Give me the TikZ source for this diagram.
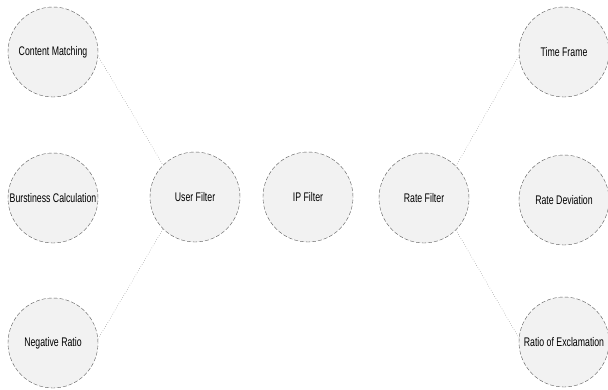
\documentclass[tikz,border=0pt]{standalone}
\usepackage{fontspec}
\newfontfamily\narrowsf[FakeStretch=0.7]{Liberation Sans}
\usepackage{xcolor}
\usepackage{tikz}
\usetikzlibrary{positioning}

\tikzset{
    filterbox/.style={circle, draw=black!65, dash pattern=on 4pt off 2pt, fill=black!5, minimum size=90pt,
        inner sep=0pt, font=\narrowsf\fontsize{12.5}{14}\selectfont},
    link/.style={draw=black!65, dotted, thin}
}

\begin{document}
\begin{tikzpicture}[x=1pt, y=-1pt]
    \useasboundingbox (0,0) rectangle (608,390);
    \foreach \n/\x/\y/\c in {cm/53/52/Content Matching, bc/53/198/Burstiness Calculation,
        nr/53/343/Negative Ratio, uf/195/197/User Filter, ip/308/197/IP Filter,
        rf/424/198/Rate Filter, tf/564/52/Time Frame, rd/564/200/Rate Deviation,
        re/564/342/Ratio of Exclamation} {
        \node[filterbox] (\n) at (\x,\y) {\c};
    }
    \draw[link] (cm.-5) -- (uf.135);
    \draw[link] (nr.5) -- (uf.225);
    \draw[link] (rf.45) -- (tf.185);
    \draw[link] (rf.-45) -- (re.175);
\end{tikzpicture}
\end{document}
